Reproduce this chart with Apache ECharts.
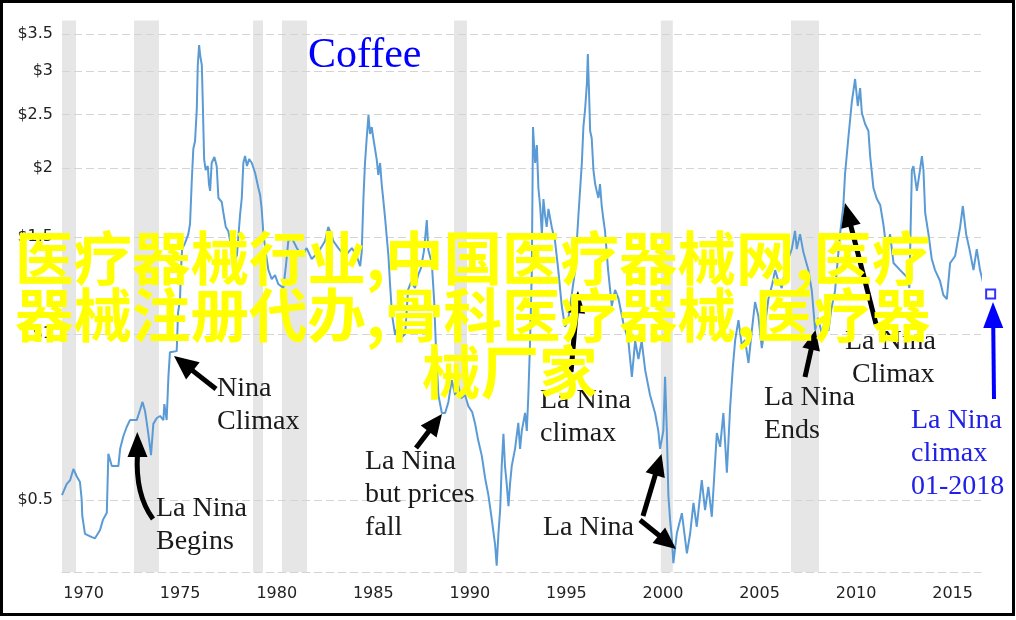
<!DOCTYPE html>
<html><head><meta charset="utf-8">
<script src="https://cdn.jsdelivr.net/npm/echarts@6/dist/echarts.min.js"></script>
<style>html,body{margin:0;padding:0;background:#fff}#c{width:1016px;height:620px}</style>
</head><body><div id="c"></div>
<script>
// ---- data ----
const years = [1968.88,1969.12,1969.30,1969.47,1969.64,1969.81,1969.90,1969.93,1970.07,1970.42,
1970.59,1970.85,1971.00,1971.20,1971.25,1971.28,1971.37,1971.46,1971.80,1971.89,
1972.06,1972.23,1972.40,1972.75,1972.92,1973.05,1973.18,1973.27,1973.35,1973.49,
1973.61,1973.79,1973.96,1974.13,1974.18,1974.30,1974.39,1974.47,1974.82,1974.89,
1974.99,1975.04,1975.10,1975.25,1975.42,1975.51,1975.60,1975.68,1975.77,1975.86,
1975.91,1975.98,1976.04,1976.12,1976.17,1976.24,1976.32,1976.43,1976.49,1976.55,
1976.63,1976.77,1976.89,1976.98,1977.15,1977.24,1977.36,1977.49,1977.63,1977.79,
1977.94,1978.10,1978.19,1978.27,1978.36,1978.46,1978.57,1978.71,1978.88,1979.05,
1979.14,1979.22,1979.31,1979.45,1979.57,1979.74,1979.91,1980.08,1980.34,1980.48,
1980.60,1980.78,1981.04,1981.30,1981.55,1981.81,1982.16,1982.50,1982.67,1982.81,
1982.93,1983.19,1983.54,1983.89,1984.14,1984.32,1984.40,1984.49,1984.57,1984.66,
1984.75,1984.83,1984.92,1985.00,1985.18,1985.26,1985.35,1985.44,1985.52,1985.61,
1985.78,1985.87,1985.97,1986.13,1986.28,1986.44,1986.65,1986.80,1986.96,1987.16,
1987.32,1987.47,1987.63,1987.77,1987.85,1988.03,1988.15,1988.25,1988.37,1988.55,
1988.72,1988.89,1989.06,1989.24,1989.39,1989.55,1989.75,1989.92,1990.12,1990.27,
1990.43,1990.62,1990.79,1990.96,1991.14,1991.31,1991.39,1991.48,1991.57,1991.65,
1991.74,1991.82,1991.91,1992.00,1992.08,1992.17,1992.34,1992.51,1992.60,1992.69,
1992.86,1992.95,1993.03,1993.12,1993.21,1993.24,1993.27,1993.38,1993.47,1993.55,
1993.64,1993.73,1993.81,1993.90,1993.98,1994.07,1994.24,1994.41,1994.58,1994.76,
1994.93,1995.09,1995.24,1995.45,1995.62,1995.80,1995.88,1995.97,1996.06,1996.11,
1996.17,1996.23,1996.31,1996.40,1996.49,1996.57,1996.66,1996.74,1996.83,1996.92,
1997.00,1997.16,1997.35,1997.52,1997.69,1997.95,1998.21,1998.39,1998.56,1998.73,
1998.90,1999.08,1999.33,1999.59,1999.76,1999.85,2000.02,2000.11,2000.20,2000.28,
2000.37,2000.46,2000.54,2000.72,2000.98,2001.24,2001.41,2001.58,2001.75,2002.01,
2002.18,2002.35,2002.53,2002.79,2002.96,2003.13,2003.31,2003.48,2003.62,2003.74,
2003.91,2004.08,2004.25,2004.43,2004.60,2004.77,2004.94,2005.12,2005.29,2005.46,
2005.65,2005.81,2005.96,2006.15,2006.41,2006.67,2006.84,2006.93,2007.10,2007.27,
2007.53,2007.71,2007.88,2008.03,2008.23,2008.40,2008.57,2008.71,2008.91,2009.17,
2009.34,2009.43,2009.60,2009.78,2009.95,2010.09,2010.21,2010.30,2010.47,2010.64,
2010.73,2010.90,2011.08,2011.25,2011.42,2011.59,2011.76,2011.94,2012.28,2012.63,
2012.76,2012.89,2012.97,2013.15,2013.28,2013.41,2013.49,2013.58,2013.75,2013.92,
2014.09,2014.35,2014.52,2014.70,2014.87,2015.13,2015.39,2015.53,2015.70,2015.87,
2016.08,2016.25,2016.42,2016.60,2016.77];
const prices = [0.510,0.534,0.543,0.569,0.552,0.539,0.500,0.468,0.434,0.428,
0.426,0.441,0.460,0.474,0.477,0.606,0.601,0.576,0.576,0.619,
0.653,0.678,0.698,0.698,0.728,0.753,0.725,0.690,0.659,0.603,
0.687,0.704,0.710,0.698,0.746,0.698,0.836,0.927,0.931,1.092,
1.153,1.306,1.426,1.462,1.518,1.583,1.895,2.166,2.240,2.560,
3.064,3.344,3.194,3.076,2.636,2.077,1.984,2.017,1.871,1.818,
2.043,2.095,2.017,1.765,1.736,1.658,1.564,1.538,1.450,1.351,
1.391,1.644,1.765,2.043,2.103,2.017,2.077,2.043,1.959,1.840,
1.787,1.686,1.518,1.391,1.306,1.258,1.279,1.232,1.212,1.334,
1.475,1.494,1.432,1.385,1.432,1.368,1.408,1.475,1.564,1.518,
1.475,1.432,1.385,1.432,1.385,1.328,1.408,1.765,2.043,2.268,
2.496,2.306,2.374,2.268,2.069,1.943,2.043,1.863,1.750,1.624,
1.391,1.227,1.083,0.996,1.038,0.984,1.000,1.202,1.243,1.212,
1.279,1.317,1.420,1.610,1.420,1.345,1.153,0.935,0.775,0.719,
0.719,0.753,0.825,0.775,0.808,0.765,0.775,0.740,0.722,0.688,
0.642,0.601,0.548,0.510,0.460,0.414,0.380,0.434,0.481,0.576,
0.659,0.576,0.534,0.487,0.534,0.576,0.619,0.690,0.619,0.667,
0.719,0.667,0.775,0.971,1.306,1.757,2.375,2.043,2.202,1.840,
1.707,1.518,1.757,1.637,1.564,1.686,1.564,1.475,1.306,1.124,
1.030,1.060,1.153,1.306,1.637,2.043,2.375,2.560,2.841,3.221,
2.760,2.335,2.268,1.984,1.871,1.818,1.765,1.871,1.707,1.610,
1.538,1.306,1.124,1.202,1.162,1.047,0.971,0.836,0.971,0.901,
0.971,0.860,0.775,0.719,0.667,0.619,0.667,0.836,0.667,0.510,
0.460,0.426,0.384,0.435,0.473,0.400,0.435,0.494,0.447,0.543,
0.479,0.528,0.466,0.661,0.624,0.719,0.560,0.737,0.871,0.975,
1.060,0.955,0.975,0.886,1.013,1.143,1.078,0.943,1.043,1.157,
1.227,1.306,1.253,1.212,1.345,1.426,1.538,1.426,1.518,1.408,
1.306,1.197,1.017,1.069,1.000,1.060,1.013,1.105,1.197,1.518,
1.707,1.951,2.268,2.636,2.902,2.592,2.794,2.517,2.404,2.335,
2.103,1.840,1.757,1.714,1.577,1.408,1.518,1.345,1.306,1.269,
1.212,1.984,2.017,1.818,1.951,2.103,1.984,1.658,1.518,1.368,
1.306,1.248,1.177,1.157,1.345,1.385,1.564,1.707,1.518,1.426,
1.306,1.426,1.306,1.232,1.212];
const recessionStart = [1968.88,1972.61,1978.77,1980.27,1989.18,1999.89,2006.63];
const recessionEnd   = [1969.61,1973.90,1979.29,1981.57,1989.85,2000.51,2008.08];
const xTickValues = [1970,1975,1980,1985,1990,1995,2000,2005,2010,2015];
const yTickValues = [0.5,1,1.5,2,2.5,3,3.5];
const markYear = [2016.97];
const markPrice = [1.182];
const titleText = 'Coffee';
const overlayLines = ['医疗器械行业,中国医疗器械网,医疗', '器械注册代办,骨科医疗器械,医疗器', '械厂家'];

if (years.length !== prices.length) console.error('length mismatch', years.length, prices.length);

// ---- chart ----
const chart = echarts.init(document.getElementById('c'), null, {renderer:'canvas'});

function arrow(x1, y1, x2, y2, color, w, hl, hw) {
  const dx = x2 - x1, dy = y2 - y1, L = Math.hypot(dx, dy), ux = dx / L, uy = dy / L;
  const bx = x2 - ux * hl, by = y2 - uy * hl, px = -uy, py = ux;
  return [
    {type:'line', shape:{x1:x1, y1:y1, x2:bx + ux*2, y2:by + uy*2}, style:{stroke:color, lineWidth:w}, z:50},
    {type:'polygon', shape:{points:[[x2,y2],[bx+px*hw/2,by+py*hw/2],[bx-px*hw/2,by-py*hw/2]]}, style:{fill:color}, z:50}
  ];
}
const serif = '"Liberation Serif","Times New Roman",serif';
function note(x, y, text, color, size) {
  return {type:'text', x:x, y:y, z:60, style:{text:text, fill:color || '#1a1a1a', fontFamily:serif, fontSize:size || 28, lineHeight:33, verticalAlign:'top', align:'left'}};
}
const cjk = '"Noto Sans CJK SC","Noto Sans CJK JP",sans-serif';

const graphics = [].concat(
  [{type:'text', x:308, y:34.8, z:60, style:{text:titleText, fill:'#0000ff', fontFamily:serif, fontSize:42, lineHeight:42, verticalAlign:'top'}}],
  [note(217, 372, 'Nina\nClimax'),
   note(156, 492, 'La Nina\nBegins'),
   note(365, 445, 'La Nina\nbut prices\nfall'),
   note(540, 384, 'La Nina\nclimax'),
   note(543, 511, 'La Nina'),
   note(764, 381, 'La Nina\nEnds'),
   note(845, 325, 'La Nina'),
   note(852, 358, 'Climax'),
   note(911, 404, 'La Nina\nclimax\n01-2018', '#2020e8')],
  arrow(216, 389, 174, 356, '#000', 5, 24, 22),
  [{type:'bezierCurve', shape:{x1:153, y1:519, cpx1:139, cpy1:500, cpx2:136, cpy2:478, x2:137.5, y2:454}, style:{stroke:'#000', lineWidth:5, fill:null}, z:50},
   {type:'polygon', shape:{points:[[137.3,432],[127.5,457],[147.5,457]]}, style:{fill:'#000'}, z:50}],
  arrow(416, 448, 442, 414, '#000', 5, 22, 20),
  arrow(571, 372, 578, 291, '#000', 5, 22, 18),
  arrow(643, 516, 661.5, 454, '#000', 5, 22, 20),
  arrow(640, 520, 676, 549, '#000', 5, 22, 20),
  arrow(805, 377, 815.5, 330, '#000', 5, 20, 18),
  arrow(876, 324, 845, 203, '#000', 5, 24, 20),
  arrow(994, 399, 993, 302, '#0000ff', 4, 26, 20),
  [{type:'text', x:15, y:258, z:100, style:{text:overlayLines[0], fill:'#ffff00', fontFamily:cjk, fontWeight:'bold', fontSize:58.5, verticalAlign:'middle'}},
   {type:'text', x:15, y:315, z:100, style:{text:overlayLines[1], fill:'#ffff00', fontFamily:cjk, fontWeight:'bold', fontSize:58.5, verticalAlign:'middle'}},
   {type:'text', x:422, y:372, z:100, style:{text:overlayLines[2], fill:'#ffff00', fontFamily:cjk, fontWeight:'bold', fontSize:58.5, verticalAlign:'middle'}},
   {type:'rect', shape:{x:1.5, y:1.5, width:1012, height:613}, style:{fill:null, stroke:'#000', lineWidth:3}, z:200}]
);

const option = {
  animation: false,
  backgroundColor: '#fff',
  grid: {left: 62, right: 35, top: 20.5, bottom: 48, containLabel: false},
  xAxis: {
    type: 'value', min: 1968.88, max: 2016.47,
    axisLine: {show: true, onZero: false, lineStyle: {color: '#d4d4d4', type: [8, 4], width: 1}},
    axisTick: {show: false, customValues: xTickValues},
    axisLabel: {customValues: xTickValues, color: '#222', fontFamily: '"DejaVu Sans",Verdana,sans-serif', fontSize: 16, margin: 14,
      formatter: v => String(Math.round(v))},
    splitLine: {show: false}
  },
  yAxis: {
    type: 'log', logBase: 10, min: 0.37, max: 3.705, z: 2,
    axisLine: {show: false},
    axisTick: {show: false, customValues: yTickValues},
    axisLabel: {customValues: yTickValues, color: '#222', fontFamily: '"DejaVu Sans",Verdana,sans-serif', fontSize: 16, margin: 9,
      formatter: v => '$' + (+(+v).toPrecision(3))},
    splitLine: {show: true, lineStyle: {color: '#d4d4d4', type: [8, 4], width: 1}}
  },
  series: [
    {
      type: 'custom', z: 1, silent: true,
      data: recessionStart.map((s, i) => [s, recessionEnd[i]]),
      encode: {x: [0, 1]},
      renderItem: function (params, api) {
        const x0 = api.coord([api.value(0), 1])[0];
        const x1 = api.coord([api.value(1), 1])[0];
        const cs = params.coordSys;
        return {type: 'rect', shape: {x: x0, y: cs.y, width: x1 - x0, height: cs.height}, style: {fill: '#e6e6e6'}};
      }
    },
    {
      type: 'line', z: 3, clip: false, symbol: 'none', showSymbol: false,
      data: years.map((y, i) => [y, prices[i]]),
      lineStyle: {color: '#5b9bd5', width: 2}
    },
    {
      type: 'scatter', z: 4, clip: false, symbol: 'rect', symbolSize: 9,
      data: markYear.map((y, i) => [y, markPrice[i]]),
      itemStyle: {color: '#fff', borderColor: '#0000ff', borderWidth: 2}
    }
  ],
  graphic: graphics
};
chart.setOption(option);
</script>
</body></html>
